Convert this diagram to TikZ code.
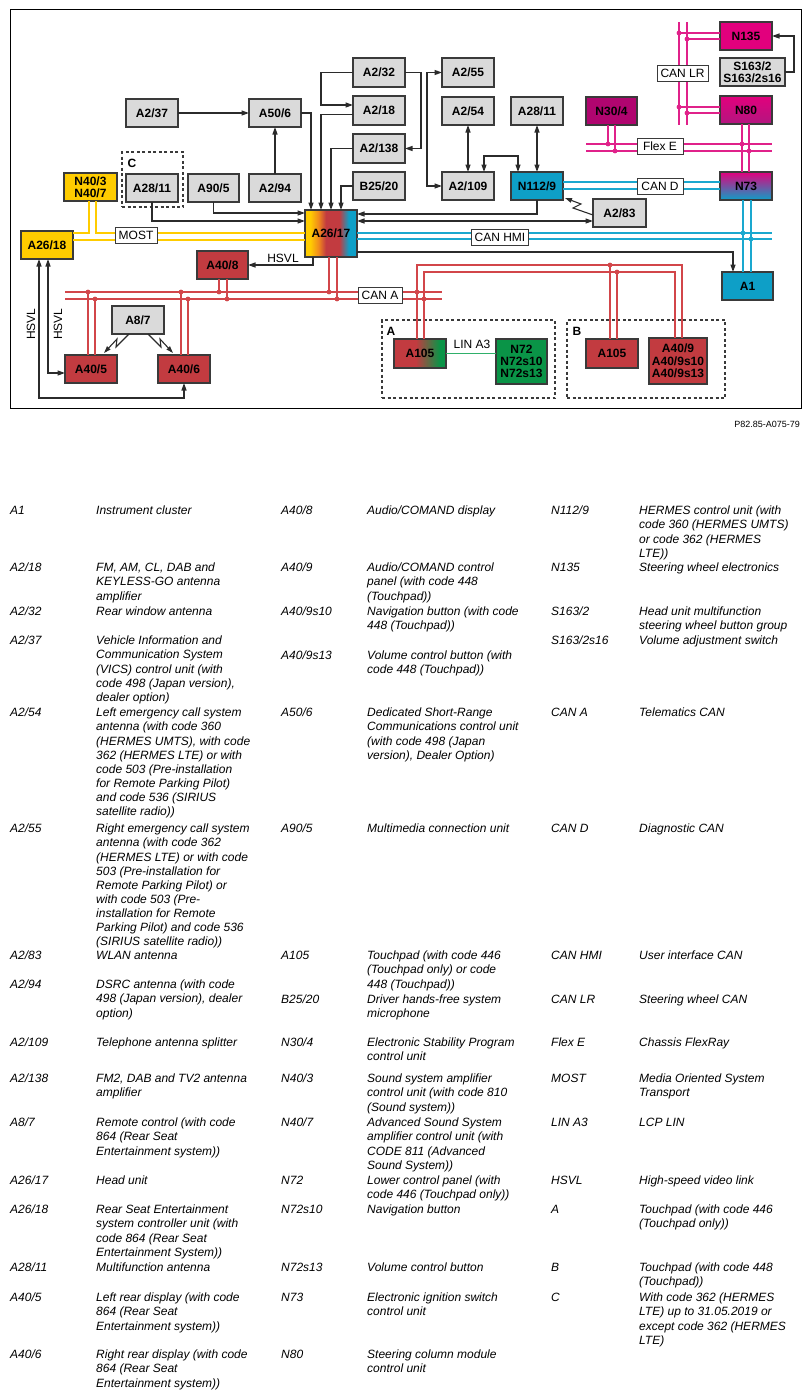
\documentclass[tikz,border=0pt]{standalone}
\usepackage{fontspec}
\setmainfont{Liberation Sans}
\usetikzlibrary{arrows.meta,shadings}

\definecolor{bdr}{HTML}{3A3A3A}
\definecolor{lk}{HTML}{2B2B2B}
\definecolor{boxgray}{HTML}{DADADA}
\definecolor{myyellow}{HTML}{FFCC00}
\definecolor{myred}{HTML}{C23B40}
\definecolor{myblue}{HTML}{0E9FC7}
\definecolor{mymag}{HTML}{E2007D}
\definecolor{mydmag}{HTML}{B0056F}
\definecolor{mybotmag}{HTML}{B3167F}
\definecolor{mygreen}{HTML}{0A9447}
\definecolor{myorange}{HTML}{F08A1C}
\definecolor{busred}{HTML}{D2464A}
\definecolor{busblue}{HTML}{1AA8CF}
\definecolor{busmag}{HTML}{E0218A}
\definecolor{busyel}{HTML}{FFCC00}
\definecolor{lingreen}{HTML}{2FB06A}

\pgfdeclarehorizontalshading{hushade}{100bp}{color(0bp)=(myyellow); color(30bp)=(myyellow); color(38bp)=(myorange); color(45bp)=(myred); color(58bp)=(myred); color(67bp)=(myblue); color(100bp)=(myblue)}
\pgfdeclarehorizontalshading{lnshade}{100bp}{color(0bp)=(myred); color(46bp)=(myred); color(69bp)=(mygreen); color(100bp)=(mygreen)}

\newcommand\boxfont{\bfseries\fontsize{12}{12.3}\selectfont}
\newcommand\lblfont{\fontsize{12}{13}\selectfont}
\newcommand\legfont{\itshape\fontsize{12}{14.15}\selectfont}
\newcommand\legitem[6]{%
  \node[legc] (#1c) at (#2,{#4-5.4}) {\strut #5};%
  \node[legc] (#1d) at (#3,{#4-5.4}) {\strut #6};}

\tikzset{
  box/.style={draw=bdr, line width=1.3pt, inner sep=0pt, outer sep=0pt, font=\boxfont, align=center, minimum width=52pt, minimum height=28pt, text=black},
  gbox/.style={box, fill=boxgray},
  ybox/.style={box, fill=myyellow},
  rbox/.style={box, fill=myred},
  bbox/.style={box, fill=myblue},
  arr/.style={draw=lk, line width=1.3pt, -{Triangle[length=7.5pt,width=5pt]}},
  arrb/.style={draw=lk, line width=1.3pt, {Triangle[length=7.5pt,width=5pt]}-{Triangle[length=7.5pt,width=5pt]}},
  zig/.style={draw=lk, line width=1.1pt, -{Triangle[length=7pt,width=4.5pt]}},
  busR/.style={draw=busred, line width=1.8pt},
  busB/.style={draw=busblue, line width=1.8pt},
  busM/.style={draw=busmag, line width=1.8pt},
  busY/.style={draw=busyel, line width=1.8pt},
  lbl/.style={draw=bdr, fill=white, line width=0.8pt, font=\lblfont, inner xsep=3.5pt, inner ysep=1pt, minimum height=16pt},
  plain/.style={font=\lblfont, inner sep=0pt},
  grp/.style={draw=bdr, line width=1.2pt, dash pattern=on 3pt off 2.5pt, inner sep=0pt},
  grplbl/.style={font=\boxfont, inner sep=0pt},
  legc/.style={anchor=north west, inner sep=0pt, font=\legfont, align=left},
}

\begin{document}
\begin{tikzpicture}[x=1pt,y=-1pt]
\useasboundingbox (0,0) rectangle (811,1398);
\draw[line width=0.9pt, black] (10,9) rectangle (801,408);

% group frames
\node[grp, minimum width=61pt, minimum height=55pt] (grpC) at (152.5,179.5) {};
\node[grp, minimum width=173pt, minimum height=78pt] (grpA) at (468.5,359) {};
\node[grp, minimum width=158pt, minimum height=78pt] (grpB) at (646,359) {};
\node[grplbl] (lC) at (132,163) {C};
\node[grplbl] (lA) at (391,331) {A};
\node[grplbl] (lB) at (577,331) {B};

% boxes
\node[gbox] (A237) at (152,113) {A2/37};
\node[gbox] (A506) at (275,113) {A50/6};
\node[gbox, minimum height=29pt] (A232) at (379,72.5) {A2/32};
\node[gbox, minimum height=29pt] (A218) at (379,110.5) {A2/18};
\node[gbox, minimum height=29pt] (A2138) at (379,148.5) {A2/138};
\node[gbox] (B2520) at (379,186) {B25/20};
\node[gbox, minimum height=29pt] (A255) at (468,72.5) {A2/55};
\node[gbox] (A254) at (468,111) {A2/54};
\node[gbox] (A2811b) at (537,111) {A28/11};
\node[gbox] (A2109) at (468,186) {A2/109};
\node[bbox] (N1129) at (537,186) {N112/9};
\node[gbox] (A294) at (275,188) {A2/94};
\node[gbox, minimum width=51pt] (A905) at (213.5,188) {A90/5};
\node[gbox] (A2811a) at (152,188) {A28/11};
\node[ybox, minimum width=53pt] (N403) at (90.5,187) {N40/3\\N40/7};
\node[ybox] (A2618) at (47,245) {A26/18};
\node[box, shade, shading=hushade, minimum height=47pt] (A2617) at (331,233.5) {A26/17};
\node[rbox, minimum width=51pt] (A408) at (222.5,265) {A40/8};
\node[gbox] (A87) at (138,320) {A8/7};
\node[rbox] (A405) at (91,369) {A40/5};
\node[rbox] (A406) at (184,369) {A40/6};
\node[box, shade, shading=lnshade, minimum height=29pt] (A105a) at (420,353.5) {A105};
\node[box, fill=mygreen, minimum width=51pt, minimum height=45pt] (N72) at (521.5,361.5) {N72\\N72s10\\N72s13};
\node[rbox, minimum height=29pt] (A105b) at (612,353.5) {A105};
\node[rbox, minimum width=58pt, minimum height=46pt] (A409) at (678,361) {A40/9\\A40/9s10\\A40/9s13};
\node[bbox, minimum width=51pt] (A1) at (747.5,286) {A1};
\node[box, top color=mymag, bottom color=myblue] (N73) at (746,186) {N73};
\node[gbox, minimum width=53pt] (A283) at (619.5,213) {A2/83};
\node[box, fill=mydmag, minimum width=51pt] (N304) at (611.5,111) {N30/4};
\node[box, top color=mymag, bottom color=mybotmag] (N80) at (746,110) {N80};
\node[box, fill=mymag] (N135) at (746,36) {N135};
\node[gbox, minimum width=65pt] (S1632) at (752.5,72) {S163/2\\S163/2s16};

% free bus ends
\coordinate (hmiE1) at (772,233); \coordinate (hmiE2) at (772,239);
\coordinate (feW1) at (586,144); \coordinate (feE1) at (772,144);
\coordinate (feW2) at (586,151); \coordinate (feE2) at (772,151);
\coordinate (lrT1) at (679,22); \coordinate (lrB1) at (679,125);
\coordinate (lrT2) at (687,22); \coordinate (lrB2) at (687,125);
\coordinate (caW1) at (65,292); \coordinate (caE1) at (442,292);
\coordinate (caW2) at (65,299); \coordinate (caE2) at (442,299);

% MOST (yellow)
\draw[busY] ([yshift=12pt]A2618.east) -| ([xshift=-1.5pt]N403.south);
\draw[busY] ([xshift=5.5pt]N403.south) |- ([yshift=0.5pt]A2617.west);
\draw[busY] ([yshift=5pt]A2618.east) -- ([yshift=-6.5pt]A2617.west);

% CAN HMI (blue)
\draw[busB] ([yshift=0.5pt]A2617.east) -- (hmiE1);
\draw[busB] ([yshift=-5.5pt]A2617.east) -- (hmiE2);
\draw[busB] ([xshift=-3pt]N73.south) -- ++(0,72);
\draw[busB] ([xshift=5pt]N73.south) -- ++(0,72);
% CAN D
\draw[busB] ([yshift=4pt]N1129.east) -- ([yshift=4pt]N73.west);
\draw[busB] ([yshift=-3pt]N1129.east) -- ([yshift=-3pt]N73.west);

% Flex E (magenta)
\draw[busM] (feW1) -- (feE1);
\draw[busM] (feW2) -- (feE2);
\draw[busM] ([xshift=-3.5pt]N304.south) -- ++(0,19);
\draw[busM] ([xshift=3.5pt]N304.south) -- ++(0,26);
\draw[busM] ([xshift=-4pt]N80.south) -- ([xshift=-4pt]N73.north);
\draw[busM] ([xshift=3pt]N80.south) -- ([xshift=3pt]N73.north);
% CAN LR
\draw[busM] (lrT1) -- (lrB1);
\draw[busM] (lrT2) -- (lrB2);
\draw[busM] ([yshift=3pt]N135.west) -- ++(-41,0);
\draw[busM] ([yshift=-3pt]N135.west) -- ++(-33,0);
\draw[busM] ([yshift=3pt]N80.west) -- ++(-41,0);
\draw[busM] ([yshift=-3pt]N80.west) -- ++(-33,0);

% CAN A (red)
\draw[busR] (caW1) -- (caE1);
\draw[busR] (caW2) -- (caE2);
\draw[busR] ([xshift=-3pt]A405.north) -- ++(0,-63);
\draw[busR] ([xshift=4pt]A405.north) -- ++(0,-56);
\draw[busR] ([xshift=-3pt]A406.north) -- ++(0,-63);
\draw[busR] ([xshift=4pt]A406.north) -- ++(0,-56);
\draw[busR] ([xshift=-3.5pt]A408.south) -- ++(0,13);
\draw[busR] ([xshift=4.5pt]A408.south) -- ++(0,20);
\draw[busR] ([xshift=-2pt]A2617.south) -- ++(0,35);
\draw[busR] ([xshift=6pt]A2617.south) -- ++(0,42);
\draw[busR] ([xshift=-3pt]A105a.north) -- ++(0,-74) -| ([xshift=4pt]A409.north);
\draw[busR] ([xshift=4pt]A105a.north) -- ++(0,-67) -| ([xshift=-3pt]A409.north);
\draw[busR] ([xshift=-2pt]A105b.north) -- ++(0,-74);
\draw[busR] ([xshift=5pt]A105b.north) -- ++(0,-67);

% LIN A3
\draw[draw=lingreen, line width=1.5pt] (A105a.east) -- (A105a.east -| N72.west);

% junction dots
\foreach \p in {(88,292),(95,299),(181,292),(188,299),(219,292),(227,299),(329,292),(337,299),(417,292),(424,299),(610,265),(617,272)}
  \fill[busred] \p circle (2.4pt);
\foreach \p in {(743,233),(751,239)}
  \fill[busblue] \p circle (2.4pt);
\foreach \p in {(608,144),(615,151),(742,144),(749,151),(679,33),(687,39),(679,107),(687,113)}
  \fill[busmag] \p circle (2.4pt);

% bus labels
\node[lbl, minimum width=42pt] (tMOST) at (136,235) {MOST};
\node[lbl, minimum width=56pt] (tHMI) at (500,237) {CAN HMI};
\node[lbl, minimum width=46pt] (tCAND) at (660,186) {CAN D};
\node[lbl, minimum width=46pt] (tFLEX) at (660,146.5) {Flex E};
\node[lbl, minimum width=51pt] (tCANLR) at (682.5,73.5) {CAN LR};
\node[lbl, minimum width=44pt] (tCANA) at (380,295.5) {CAN A};
\node[plain] (tLIN) at (472,344.5) {LIN A3};
\node[plain] (tHSVL) at (283,258) {HSVL};
\node[plain, rotate=90] (tHSVL1) at (31,324) {HSVL};
\node[plain, rotate=90] (tHSVL2) at (58,324) {HSVL};

% connectors
\draw[arr] (A237.east) -- (A506.west);
\draw[arr] (A294.north) -- (A506.south);
\draw[arr] (A506.east) -| ([xshift=-20pt]A2617.north);
\draw[arr] (A232.west) -- ++(-32,0) |- ([yshift=5.5pt]A218.west);
\draw[arr] ([yshift=-4pt]A218.west) -| ([xshift=-10pt]A2617.north);
\draw[arr] (A2138.west) -| (A2617.north);
\draw[arr] (B2520.west) -| ([xshift=10pt]A2617.north);
\draw[arr] (A232.east) -- ++(16,0) |- (A2138.east);
\draw[arrb] (A255.west) -- ++(-15,0) |- (A2109.west);
\draw[arrb] (A254.south) -- (A2109.north);
\draw[arrb] (A2811b.south) -- (N1129.north);
\draw[arrb] ([xshift=16pt]A2109.north) -- ++(0,-16) -| ([xshift=-19pt]N1129.north);
\draw[arr] (N1129.south) |- ([yshift=19.5pt]A2617.east);
\draw[arrb] ([yshift=12.5pt]A2617.east) -- ([yshift=-8pt]A283.west);
\draw[arr] ([yshift=-18.5pt]A2617.east) -| ([xshift=-14.5pt]A1.north);
\draw[arr] (A905.south) |- ([yshift=20.5pt]A2617.west);
\draw[arr] (A2811a.south) |- ([yshift=12.5pt]A2617.west);
\draw[arr] ([xshift=-18pt]A2617.south) |- (A408.east);
\draw[arrb] ([xshift=1pt]A2618.south) |- ([yshift=-4pt]A405.west);
\draw[arrb] ([xshift=-8pt]A2618.south) -- ++(0,139) -| (A406.south);
\draw[arr] (S1632.east) -- ++(9,0) |- (N135.east);

% wireless links
\draw[zig] ([yshift=-2pt]A283.west) -- ++(-20,-7) -- ++(8,-4) -- ++(-16,-6);
\draw[zig] ([xshift=-9pt]A87.south) -- ++(-13,13) -- ++(1,-8) -- ++(-13,14);
\draw[zig] ([xshift=10pt]A87.south) -- ++(13,13) -- ++(-1,-8) -- ++(13,14);

% reference number
\node[font=\fontsize{9}{10}\selectfont, anchor=east, inner sep=0pt] (ref) at (800,424) {P82.85-A075-79};

% legend column 1
\legitem{a1}{10}{96}{510}{A1}{Instrument cluster}
\legitem{a2}{10}{96}{567}{A2/18}{FM, AM, CL, DAB and\\KEYLESS-GO antenna\\amplifier}
\legitem{a3}{10}{96}{611}{A2/32}{Rear window antenna}
\legitem{a4}{10}{96}{640}{A2/37}{Vehicle Information and\\Communication System\\(VICS) control unit (with\\code 498 (Japan version),\\dealer option)}
\legitem{a5}{10}{96}{712}{A2/54}{Left emergency call system\\antenna (with code 360\\(HERMES UMTS), with code\\362 (HERMES LTE) or with\\code 503 (Pre-installation\\for Remote Parking Pilot)\\and code 536 (SIRIUS\\satellite radio))}
\legitem{a6}{10}{96}{828}{A2/55}{Right emergency call system\\antenna (with code 362\\(HERMES LTE) or with code\\503 (Pre-installation for\\Remote Parking Pilot) or\\with code 503 (Pre-\\installation for Remote\\Parking Pilot) and code 536\\(SIRIUS satellite radio))}
\legitem{a7}{10}{96}{955}{A2/83}{WLAN antenna}
\legitem{a8}{10}{96}{984}{A2/94}{DSRC antenna (with code\\498 (Japan version), dealer\\option)}
\legitem{a9}{10}{96}{1042}{A2/109}{Telephone antenna splitter}
\legitem{a10}{10}{96}{1078}{A2/138}{FM2, DAB and TV2 antenna\\amplifier}
\legitem{a11}{10}{96}{1122}{A8/7}{Remote control (with code\\864 (Rear Seat\\Entertainment system))}
\legitem{a12}{10}{96}{1180}{A26/17}{Head unit}
\legitem{a13}{10}{96}{1209}{A26/18}{Rear Seat Entertainment\\system controller unit (with\\code 864 (Rear Seat\\Entertainment System))}
\legitem{a14}{10}{96}{1267}{A28/11}{Multifunction antenna}
\legitem{a15}{10}{96}{1297}{A40/5}{Left rear display (with code\\864 (Rear Seat\\Entertainment system))}
\legitem{a16}{10}{96}{1354}{A40/6}{Right rear display (with code\\864 (Rear Seat\\Entertainment system))}

% legend column 2
\legitem{b1}{281}{367}{510}{A40/8}{Audio/COMAND display}
\legitem{b2}{281}{367}{567}{A40/9}{Audio/COMAND control\\panel (with code 448\\(Touchpad))}
\legitem{b3}{281}{367}{611}{A40/9s10}{Navigation button (with code\\448 (Touchpad))}
\legitem{b4}{281}{367}{655}{A40/9s13}{Volume control button (with\\code 448 (Touchpad))}
\legitem{b5}{281}{367}{712}{A50/6}{Dedicated Short-Range\\Communications control unit\\(with code 498 (Japan\\version), Dealer Option)}
\legitem{b6}{281}{367}{828}{A90/5}{Multimedia connection unit}
\legitem{b7}{281}{367}{955}{A105}{Touchpad (with code 446\\(Touchpad only) or code\\448 (Touchpad))}
\legitem{b8}{281}{367}{999}{B25/20}{Driver hands-free system\\microphone}
\legitem{b9}{281}{367}{1042}{N30/4}{Electronic Stability Program\\control unit}
\legitem{b10}{281}{367}{1078}{N40/3}{Sound system amplifier\\control unit (with code 810\\(Sound system))}
\legitem{b11}{281}{367}{1122}{N40/7}{Advanced Sound System\\amplifier control unit (with\\CODE 811 (Advanced\\Sound System))}
\legitem{b12}{281}{367}{1180}{N72}{Lower control panel (with\\code 446 (Touchpad only))}
\legitem{b13}{281}{367}{1209}{N72s10}{Navigation button}
\legitem{b14}{281}{367}{1267}{N72s13}{Volume control button}
\legitem{b15}{281}{367}{1297}{N73}{Electronic ignition switch\\control unit}
\legitem{b16}{281}{367}{1354}{N80}{Steering column module\\control unit}

% legend column 3
\legitem{c1}{551}{639}{510}{N112/9}{HERMES control unit (with\\code 360 (HERMES UMTS)\\or code 362 (HERMES\\LTE))}
\legitem{c2}{551}{639}{567}{N135}{Steering wheel electronics}
\legitem{c3}{551}{639}{611}{S163/2}{Head unit multifunction\\steering wheel button group}
\legitem{c4}{551}{639}{640}{S163/2s16}{Volume adjustment switch}
\legitem{c5}{551}{639}{712}{CAN A}{Telematics CAN}
\legitem{c6}{551}{639}{828}{CAN D}{Diagnostic CAN}
\legitem{c7}{551}{639}{955}{CAN HMI}{User interface CAN}
\legitem{c8}{551}{639}{999}{CAN LR}{Steering wheel CAN}
\legitem{c9}{551}{639}{1042}{Flex E}{Chassis FlexRay}
\legitem{c10}{551}{639}{1078}{MOST}{Media Oriented System\\Transport}
\legitem{c11}{551}{639}{1122}{LIN A3}{LCP LIN}
\legitem{c12}{551}{639}{1180}{HSVL}{High-speed video link}
\legitem{c13}{551}{639}{1209}{A}{Touchpad (with code 446\\(Touchpad only))}
\legitem{c14}{551}{639}{1267}{B}{Touchpad (with code 448\\(Touchpad))}
\legitem{c15}{551}{639}{1297}{C}{With code 362 (HERMES\\LTE) up to 31.05.2019 or\\except code 362 (HERMES\\LTE)}
\end{tikzpicture}
\end{document}
